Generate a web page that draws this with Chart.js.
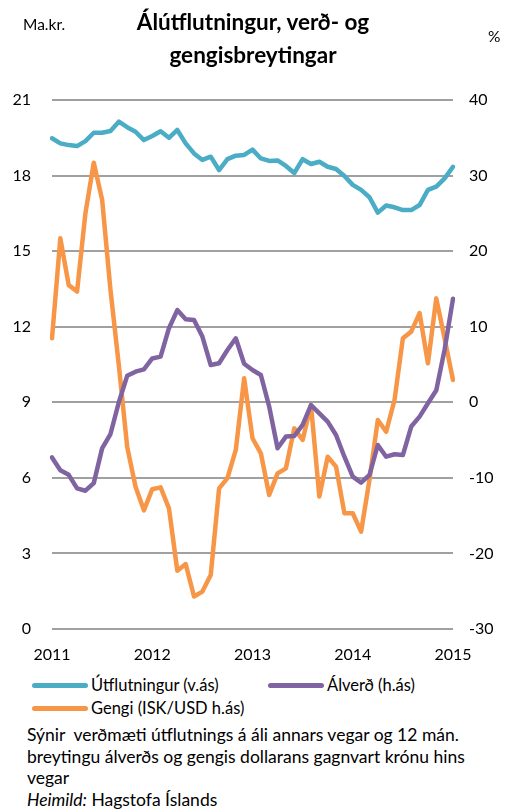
<!DOCTYPE html>
<html>
<head>
<meta charset="utf-8">
<script src="https://cdn.jsdelivr.net/npm/chart.js@4/dist/chart.umd.min.js"></script>
<style>
  html, body { margin: 0; padding: 0; background: #fff; }
  body { font-family: Lato, "Open Sans", sans-serif; color: #000; }
  #wrap { position: relative; width: 515px; height: 809px; overflow: hidden; }
  #chart { position: absolute; left: 0; top: 0; }
  .abs { position: absolute; white-space: nowrap; }
  .title { left: 0; width: 506px; top: 5px; text-align: center; font-weight: bold; font-size: 22.5px; line-height: 33px; }
  .unit { font-size: 15.5px; }
  .leg { font-size: 16.5px; display: flex; align-items: center; }
  .leg i { display: inline-block; width: 56px; height: 5px; border-radius: 3px; margin-right: 3px; }
  .note { left: 27px; top: 724px; font-size: 17.5px; line-height: 21.5px; }
</style>
</head>
<body>
<div id="wrap">
  <canvas id="chart" width="515" height="672"></canvas>
  <div class="abs title">Álútflutningur, verð- og<br>gengisbreytingar</div>
  <div class="abs unit" style="left:23px; top:15px;">Ma.kr.</div>
  <div class="abs unit" style="left:488px; top:27px;">%</div>
  <div class="abs leg" style="left:32px; top:675px;"><i style="background:#4bacc6"></i>Útflutningur (v.ás)</div>
  <div class="abs leg" style="left:268px; top:675px;"><i style="background:#8064a2"></i>Álverð (h.ás)</div>
  <div class="abs leg" style="left:32px; top:698px;"><i style="background:#f79646"></i>Gengi (ISK/USD h.ás)</div>
  <div class="abs note">Sýnir&nbsp; verðmæti útflutnings á áli annars vegar og 12 mán.<br>breytingu álverðs og gengis dollarans gagnvart krónu hins<br>vegar<br><em>Heimild:</em> Hagstofa Íslands</div>
</div>
<script>
// Monthly data, Jan 2011 - Jan 2015
const yearLabels = ['2011', '2012', '2013', '2014', '2015'];
const months = [];
yearLabels.forEach((y, k) => {
  for (let m = 1; m <= 12; m++) if (k < 4 || m === 1) months.push(y + '-' + String(m).padStart(2, '0'));
});

// Útflutningur, ma.kr. (left axis)
const exportsValue = [
  19.48, 19.28, 19.21, 19.17, 19.37, 19.70, 19.70, 19.77, 20.14, 19.92, 19.74, 19.41,
  19.57, 19.76, 19.50, 19.81, 19.28, 18.88, 18.62, 18.75, 18.22, 18.65, 18.79, 18.82,
  19.03, 18.68, 18.58, 18.60, 18.38, 18.10, 18.65, 18.46, 18.55, 18.35, 18.26, 17.98,
  17.63, 17.43, 17.14, 16.53, 16.81, 16.74, 16.63, 16.63, 16.83, 17.43, 17.56, 17.89,
  18.35
];
// Álverð, 12 mán. breyting % (right axis)
const aluminiumChange = [
  -7.3, -9.0, -9.6, -11.4, -11.7, -10.7, -6.1, -4.2, 0.0, 3.5, 4.05, 4.36,
  5.8, 6.04, 9.8, 12.2, 11.0, 10.9, 8.7, 4.93, 5.16, 6.92, 8.47, 5.1,
  4.27, 3.61, -0.58, -6.09, -4.54, -4.46, -3.0, -0.36, -1.46, -2.56, -4.33, -7.2,
  -9.84, -10.63, -9.62, -5.65, -7.2, -6.88, -6.98, -3.21, -1.9, -0.13, 1.6, 7.0,
  13.7
];
// Gengi ISK/USD, 12 mán. breyting % (right axis)
const fxChange = [
  8.47, 21.7, 15.5, 14.65, 25.0, 31.7, 26.8, 14.86, 4.9, -5.9, -11.17, -14.3,
  -11.5, -11.26, -14.03, -22.28, -21.4, -25.7, -25.05, -22.85, -11.4, -10.04, -6.31, 3.17,
  -4.76, -6.75, -12.27, -9.4, -8.74, -3.45, -4.99, -0.36, -12.48, -7.2, -8.52, -14.68,
  -14.68, -17.12, -10.26, -2.35, -3.9, 0.3, 8.47, 9.35, 11.8, 5.16, 13.75, 8.4,
  2.95
];

const FONT = { family: 'Lato, "Open Sans", sans-serif', size: 16 };
const line = (label, data, color, axis) => ({
  label, data, yAxisID: axis, borderColor: color, backgroundColor: color,
  borderWidth: 4.5, pointRadius: 0, tension: 0, borderJoinStyle: 'round', borderCapStyle: 'round',
});

new Chart(document.getElementById('chart'), {
  type: 'line',
  data: {
    labels: months,
    datasets: [
      line('Útflutningur (v.ás)', exportsValue, '#4bacc6', 'y'),
      line('Álverð (h.ás)', aluminiumChange, '#8064a2', 'y1'),
      line('Gengi (ISK/USD h.ás)', fxChange, '#f79646', 'y1'),
    ],
  },
  options: {
    responsive: false,
    devicePixelRatio: 1,
    animation: false,
    layout: { padding: { top: 100, left: 0, right: 0, bottom: 0 } },
    plugins: { legend: { display: false }, tooltip: { enabled: false } },
    scales: {
      x: {
        grid: { display: false },
        border: { display: false },
        ticks: {
          color: '#000', font: FONT, autoSkip: false, maxRotation: 0, padding: 8,
          callback: (v, i) => (i % 12 === 0 ? yearLabels[i / 12] : null),
        },
        afterFit: (s) => { s.height = 672 - 629; },
      },
      y: {
        position: 'left', min: 0, max: 21,
        ticks: { stepSize: 3, color: '#000', font: FONT, padding: 21 },
        grid: { color: '#a0a0a0', lineWidth: 2, drawTicks: false },
        border: { display: false },
        afterFit: (s) => { s.width = 52; },
      },
      y1: {
        position: 'right', min: -30, max: 40,
        ticks: { stepSize: 10, color: '#000', font: FONT, padding: 16 },
        grid: { display: false, drawTicks: false },
        border: { display: false },
        afterFit: (s) => { s.width = 62; },
      },
    },
  },
});
</script>
</body>
</html>
